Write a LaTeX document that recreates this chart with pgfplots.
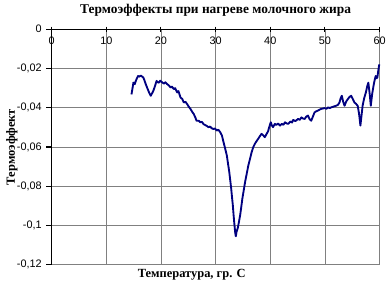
\documentclass[border=0pt]{standalone}
\usepackage{fontspec}
\setmainfont{Liberation Serif}
\newfontfamily\arial{Liberation Sans}
\usepackage{pgfplots}
\pgfplotsset{compat=1.18}
\usetikzlibrary{calc}
\definecolor{navy}{HTML}{000080}
\definecolor{gridgray}{HTML}{808080}
\begin{document}
\begin{tikzpicture}
\begin{axis}[
  name=ax,
  scale only axis,
  width=247.5pt, height=177.75pt,
  xmin=0, xmax=60, ymin=-0.12, ymax=0,
  xtick={0,10,...,60},
  ytick={-0.12,-0.1,-0.08,-0.06,-0.04,-0.02,0},
  axis x line*=top,
  axis y line*=left,
  axis line style={-, black, line width=1pt},
  xtick align=center,
  ytick align=outside,
  major tick length=4pt,
  tick style={black, line width=0.8pt},
  grid=major,
  major grid style={gridgray, line width=0.6pt},
  xticklabel pos=upper,
  xticklabel style={anchor=center, yshift=-10.5pt, font=\arial\fontsize{8.2}{9}\selectfont},
  yticklabel style={anchor=east, xshift=0pt, font=\arial\fontsize{8.2}{9}\selectfont},
  /pgf/number format/assume math mode=true,
  /pgf/number format/use comma,
  /pgf/number format/fixed,
  /pgf/number format/precision=2,
  title={Термоэффекты при нагреве молочного жира},
  title style={at={(axis description cs:0.5,1.046)}, anchor=center, font=\bfseries\fontsize{10.1}{12}\selectfont},
  xlabel={Температура, гр. С},
  xlabel style={at={(axis description cs:0.427,-0.042)}, anchor=center, font=\bfseries\fontsize{9.4}{11}\selectfont},
  ylabel={Термоэффект},
  ylabel style={at={(axis description cs:-0.121,0.5)}, anchor=center, font=\bfseries\fontsize{9.4}{11}\selectfont},
  clip=false,
]
\addplot[navy, line width=1.4pt, line join=round] coordinates {
(14.6,-0.0332) (14.8,-0.0300) (14.96,-0.0272) (15.2,-0.0280) (15.4,-0.0263)
(15.6,-0.0250) (15.82,-0.0238) (16.0,-0.0242) (16.31,-0.0236) (16.5,-0.0240)
(16.78,-0.0246) (17.0,-0.0262) (17.22,-0.0280) (17.5,-0.0300) (17.82,-0.0322)
(18.13,-0.0339) (18.4,-0.0325) (18.6,-0.0314) (18.9,-0.0290) (19.2,-0.0263)
(19.4,-0.0270) (19.64,-0.0272) (19.85,-0.0262) (20.05,-0.0267) (20.3,-0.0272)
(20.55,-0.0277) (20.8,-0.0270) (21.15,-0.0280) (21.4,-0.0285) (21.76,-0.0297)
(22.0,-0.0292) (22.36,-0.0305) (22.6,-0.0300) (22.96,-0.0322) (23.2,-0.0315)
(23.58,-0.0348) (23.9,-0.0355) (24.18,-0.0373) (24.5,-0.0370) (24.78,-0.0381)
(25.1,-0.0395) (25.4,-0.0406) (25.7,-0.0420) (26.0,-0.0432) (26.3,-0.0450)
(26.5,-0.0466) (26.9,-0.0466) (27.2,-0.0474) (27.5,-0.0472) (27.8,-0.0484)
(28.1,-0.0488) (28.4,-0.0493) (28.7,-0.0499) (29.0,-0.0496) (29.3,-0.0505)
(29.6,-0.0508) (29.9,-0.0506) (30.2,-0.0516) (30.5,-0.0512) (30.85,-0.0525)
(31.15,-0.0541) (31.45,-0.0575) (31.75,-0.0608) (32.05,-0.0643) (32.3,-0.0690)
(32.5,-0.0727) (32.7,-0.0775) (32.85,-0.0811) (33.0,-0.0855) (33.15,-0.0896)
(33.3,-0.0950) (33.45,-0.0997) (33.6,-0.1040) (33.7,-0.1055) (33.85,-0.1030)
(34.05,-0.1014) (34.25,-0.0985) (34.5,-0.0946) (34.7,-0.0905) (34.9,-0.0862)
(35.15,-0.0820) (35.4,-0.0778) (35.7,-0.0735) (36.0,-0.0693) (36.3,-0.0660)
(36.6,-0.0626) (36.9,-0.0600) (37.2,-0.0583) (37.5,-0.0570) (37.8,-0.0558)
(38.1,-0.0545) (38.4,-0.0533) (38.7,-0.0540) (39.0,-0.0550) (39.3,-0.0535)
(39.6,-0.0520) (39.85,-0.0495) (40.1,-0.0474) (40.3,-0.0490) (40.5,-0.0499)
(40.85,-0.0482) (41.1,-0.0488) (41.4,-0.0480) (41.8,-0.0491) (42.1,-0.0482)
(42.4,-0.0487) (42.7,-0.0474) (43.0,-0.0480) (43.3,-0.0482) (43.7,-0.0470)
(44.0,-0.0475) (44.2,-0.0462) (44.6,-0.0468) (45.1,-0.0457) (45.4,-0.0462)
(45.7,-0.0449) (46.0,-0.0455) (46.3,-0.0457) (46.6,-0.0445) (46.9,-0.0440)
(47.2,-0.0458) (47.5,-0.0466) (47.8,-0.0445) (48.1,-0.0424) (48.4,-0.0418)
(48.7,-0.0415) (49.0,-0.0410) (49.3,-0.0406) (49.6,-0.0404) (49.95,-0.0402)
(50.3,-0.0405) (50.6,-0.0398) (50.9,-0.0402) (51.15,-0.0398) (51.5,-0.0395)
(51.8,-0.0392) (52.05,-0.0390) (52.4,-0.0385) (52.67,-0.0373) (52.9,-0.0350)
(53.1,-0.0339) (53.35,-0.0370) (53.6,-0.0390) (53.9,-0.0368) (54.2,-0.0356)
(54.5,-0.0345) (54.8,-0.0339) (55.1,-0.0355) (55.4,-0.0373) (55.7,-0.0380)
(56.0,-0.0390) (56.25,-0.0430) (56.5,-0.0491) (56.7,-0.0440) (56.9,-0.0390)
(57.2,-0.0350) (57.5,-0.0322) (57.75,-0.0290) (57.95,-0.0272) (58.2,-0.0330)
(58.4,-0.0390) (58.65,-0.0330) (58.9,-0.0288) (59.1,-0.0260) (59.3,-0.0238)
(59.45,-0.0250) (59.6,-0.0246) (59.8,-0.0205) (59.95,-0.0179)
};
\end{axis}
\path[use as bounding box] ($(ax.south west)+(-39pt,-14.25pt)$) rectangle ($(ax.north east)+(6pt,17.25pt)$);
\end{tikzpicture}
\end{document}
